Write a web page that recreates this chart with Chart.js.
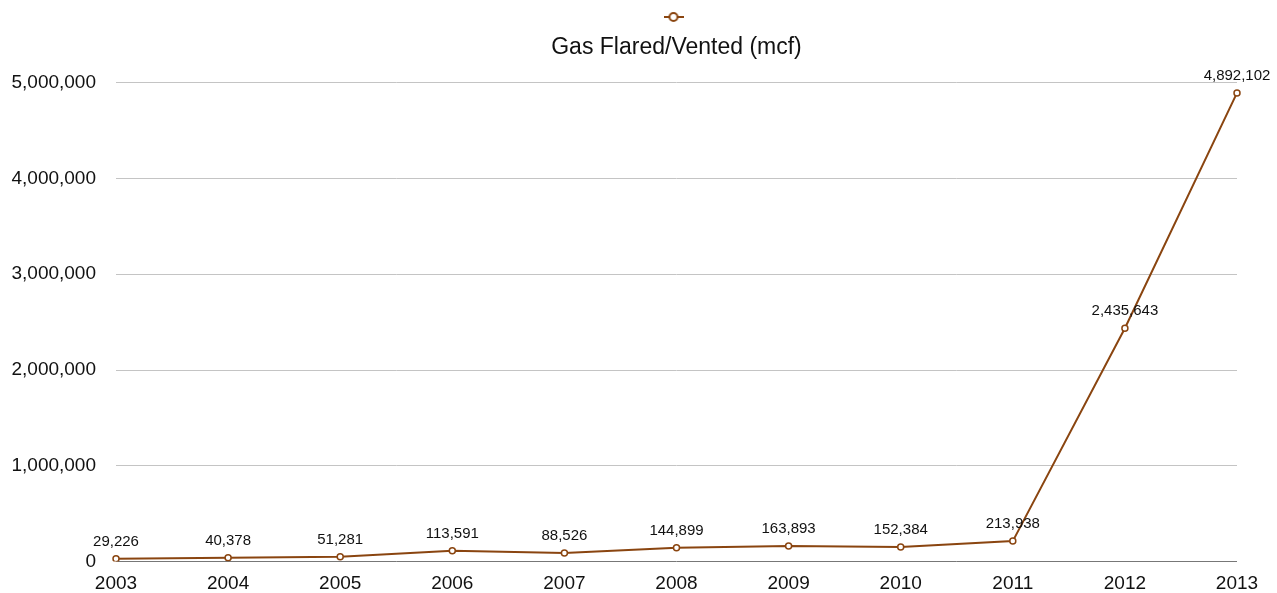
<!DOCTYPE html>
<html>
<head>
<meta charset="utf-8">
<script src="https://cdn.jsdelivr.net/npm/chart.js@4.4.1/dist/chart.umd.min.js"></script>
<style>
html,body{margin:0;padding:0;background:#fff;}
#wrap{width:1277px;height:593px;position:relative;}
</style>
</head>
<body>
<div id="wrap"><canvas id="c"></canvas></div>
<script>
const years = ['2003','2004','2005','2006','2007','2008','2009','2010','2011','2012','2013'];
const gasFlared = [29226, 40378, 51281, 113591, 88526, 144899, 163893, 152384, 213938, 2435643, 4892102];
const seriesName = 'Gas Flared/Vented (mcf)';
const lineColor = '#8a4510';
const FONT = '"Liberation Sans", Arial, Helvetica, sans-serif';

// legend marker: circle with line stubs
const mk = document.createElement('canvas');
mk.width = 20; mk.height = 12;
(function(){
  const g = mk.getContext('2d');
  g.strokeStyle = lineColor; g.lineWidth = 2;
  g.beginPath(); g.moveTo(0,6); g.lineTo(20,6); g.stroke();
  g.fillStyle = '#fff';
  g.beginPath(); g.arc(10,6,4,0,Math.PI*2); g.fill();
  g.lineWidth = 2; g.stroke();
})();

const dataLabels = {
  id: 'dataLabels',
  afterDatasetsDraw(chart) {
    const ctx = chart.ctx;
    const meta = chart.getDatasetMeta(0);
    ctx.save();
    ctx.font = '15px ' + FONT;
    ctx.fillStyle = '#111';
    ctx.textAlign = 'center';
    ctx.textBaseline = 'middle';
    meta.data.forEach((pt, i) => {
      ctx.fillText(gasFlared[i].toLocaleString('en-US'), pt.x, pt.y - 17);
    });
    ctx.restore();
  }
};

new Chart(document.getElementById('c'), {
  type: 'line',
  data: {
    labels: years,
    datasets: [{
      label: seriesName,
      data: gasFlared,
      borderColor: lineColor,
      backgroundColor: '#fff',
      borderWidth: 2,
      pointRadius: 3,
      pointBorderWidth: 1.5,
      pointBackgroundColor: '#fff',
      pointBorderColor: lineColor,
      tension: 0
    }]
  },
  options: {
    responsive: true,
    maintainAspectRatio: false,
    animation: false,
    devicePixelRatio: 1,
    layout: { padding: { left: 8, right: 40, top: 5, bottom: 0 } },
    plugins: {
      legend: {
        display: true,
        position: 'top',
        fullSize: false,
        weight: 3000,
        labels: {
          usePointStyle: true,
          padding: 6,
          generateLabels: () => [{ text: '', pointStyle: mk, fillStyle: '#fff', strokeStyle: lineColor, lineWidth: 0, hidden: false, datasetIndex: 0 }]
        }
      },
      title: {
        display: true,
        text: seriesName,
        color: '#111',
        fullSize: false,
        weight: 500,
        font: { family: FONT, size: 23, weight: 'normal' },
        padding: { top: 1, bottom: 21 }
      },
      tooltip: { enabled: false }
    },
    scales: {
      x: {
        offset: false,
        grid: { display: false, drawTicks: false },
        border: { display: false },
        ticks: { color: '#111', font: { family: FONT, size: 19 }, padding: 11, maxRotation: 0 },
        afterFit(s) { s.height = 31; }
      },
      y: {
        min: 0, max: 5000000,
        ticks: {
          stepSize: 1000000,
          color: '#111',
          font: { family: FONT, size: 19 },
          padding: 20,
          callback: v => v.toLocaleString('en-US')
        },
        grid: {
          drawTicks: false,
          color: ctx => ctx.tick && ctx.tick.value === 0 ? '#777' : '#c4c4c4',
          lineWidth: 1
        },
        border: { display: false },
        afterFit(s) { s.width = 108; }
      }
    }
  },
  plugins: [dataLabels]
});
</script>
</body>
</html>
